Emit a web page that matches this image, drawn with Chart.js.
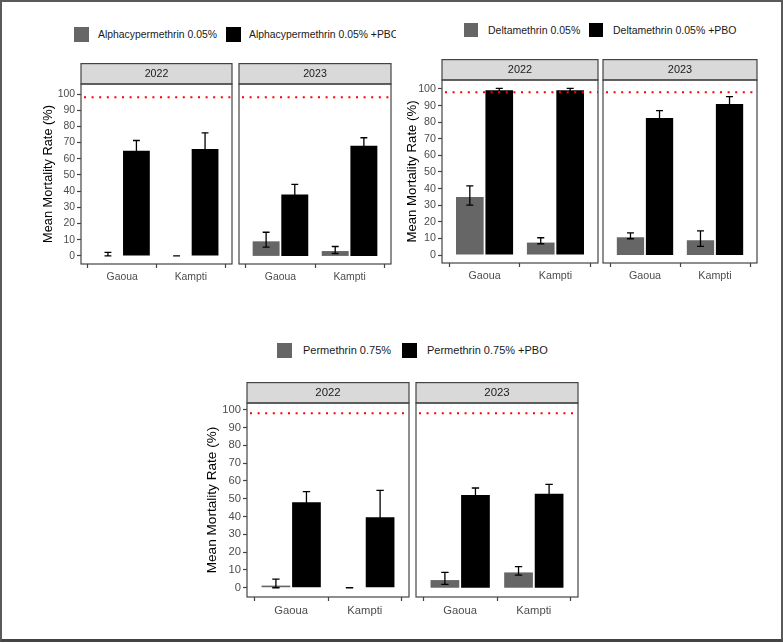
<!DOCTYPE html>
<html>
<head>
<meta charset="utf-8">
<script src="https://cdn.jsdelivr.net/npm/chart.js@4.4.1/dist/chart.umd.min.js"></script>
<style>
  html, body { margin: 0; padding: 0; background: #ffffff; }
  #frame { position: absolute; left: 0; top: 0; width: 783px; height: 642px; box-sizing: border-box;
           border: 2px solid #5a5a5a; border-bottom: 3px solid #444; }
  canvas.facet { position: absolute; }
  .legend { position: absolute; overflow: hidden; font-family: 'Liberation Sans', Arial, sans-serif; color: #1a1a1a; white-space: nowrap; }
  .legend .sw { position: absolute; }
  .legend .lt { position: absolute; }
</style>
</head>
<body>
<div id="frame"></div>
<div id="root"></div>
<script>
// ---------------- data ----------------
const sites = ['Gaoua', 'Kampti'];
const years = ['2022', '2023'];
const yTickValues = [0, 10, 20, 30, 40, 50, 60, 70, 80, 90, 100];
const threshold = 98;
const yAxisTitle = 'Mean Mortality Rate (%)';

// Alphacypermethrin
const alphaLegend = ['Alphacypermethrin 0.05%', 'Alphacypermethrin 0.05% +PBO'];
const alphaBase2022 = [0.3, 0];
const alphaBaseErr2022 = [[0, 2.2], [0, 0]];
const alphaPbo2022 = [65, 66];
const alphaPboErr2022 = [[59, 71.3], [56.5, 76]];
const alphaBase2023 = [9, 3];
const alphaBaseErr2023 = [[5.4, 14.6], [1.5, 5.8]];
const alphaPbo2023 = [38, 68];
const alphaPboErr2023 = [[32, 44.2], [63.5, 73]];

// Deltamethrin
const deltaLegend = ['Deltamethrin 0.05%', 'Deltamethrin 0.05% +PBO'];
const deltaBase2022 = [35, 7.5];
const deltaBaseErr2022 = [[30, 41.7], [6.8, 10.4]];
const deltaPbo2022 = [99.3, 99.3];
const deltaPboErr2022 = [[98.3, 100.4], [98.3, 100.4]];
const deltaBase2023 = [10.7, 8.9];
const deltaBaseErr2023 = [[9.8, 13.4], [5.2, 14.5]];
const deltaPbo2023 = [82.5, 91];
const deltaPboErr2023 = [[78, 86.9], [86.5, 95.4]];

// Permethrin
const permLegend = ['Permethrin 0.75%', 'Permethrin 0.75% +PBO'];
const permBase2022 = [1.2, 0];
const permBaseErr2022 = [[0, 4.8], [0, 0]];
const permPbo2022 = [48, 39.6];
const permPboErr2022 = [[42, 54], [24.6, 54.6]];
const permBase2023 = [4.3, 8.6];
const permBaseErr2023 = [[1.9, 8.6], [7.1, 11.8]];
const permPbo2023 = [52, 52.7];
const permPboErr2023 = [[48, 56], [47.4, 58]];

// ---------------- layout & style ----------------
const FONT = "'Liberation Sans', Arial, sans-serif";
const BASE_COLOR = '#666666';
const PBO_COLOR = '#000000';

const groups = [
  {
    legend: alphaLegend,
    facets: [
      [alphaBase2022, alphaBaseErr2022, alphaPbo2022, alphaPboErr2022],
      [alphaBase2023, alphaBaseErr2023, alphaPbo2023, alphaPboErr2023]
    ],
    panels: [{ x: 81, y: 84, w: 151, h: 180 }, { x: 239, y: 84, w: 152, h: 180 }],
    strip: 21, yMin: -5, yMax: 106.2, titleX: 49,
    fs: 1.0, titleSize: 12.8,
    legendBox: { left: 0, top: 20, width: 396, height: 30 },
    legendItems: [{ sx: 74, tx: 98 }, { sx: 226, tx: 249 }], legendSw: 15, legendY: 7, legendFont: 10.4
  },
  {
    legend: deltaLegend,
    facets: [
      [deltaBase2022, deltaBaseErr2022, deltaPbo2022, deltaPboErr2022],
      [deltaBase2023, deltaBaseErr2023, deltaPbo2023, deltaPboErr2023]
    ],
    panels: [{ x: 442, y: 80, w: 156, h: 183 }, { x: 603, y: 80, w: 154, h: 183 }],
    strip: 21, yMin: -4.8, yMax: 105.4, titleX: 412,
    fs: 1.03, titleSize: 13.2,
    legendBox: { left: 400, top: 16, width: 370, height: 30 },
    legendItems: [{ sx: 464, tx: 488 }, { sx: 589, tx: 613 }], legendSw: 14, legendY: 7, legendFont: 10.5
  },
  {
    legend: permLegend,
    facets: [
      [permBase2022, permBaseErr2022, permPbo2022, permPboErr2022],
      [permBase2023, permBaseErr2023, permPbo2023, permPboErr2023]
    ],
    panels: [{ x: 247, y: 403, w: 162, h: 194 }, { x: 416, y: 403, w: 162, h: 194 }],
    strip: 21, yMin: -5.2, yMax: 103.7, titleX: 212,
    fs: 1.08, titleSize: 13.6,
    legendBox: { left: 200, top: 336, width: 400, height: 30 },
    legendItems: [{ sx: 277, tx: 303 }, { sx: 402, tx: 427 }], legendSw: 15, legendY: 7, legendFont: 11
  }
];

const root = document.getElementById('root');

// HTML legends
groups.forEach(g => {
  const box = document.createElement('div');
  box.className = 'legend';
  Object.assign(box.style, {
    left: g.legendBox.left + 'px', top: g.legendBox.top + 'px',
    width: g.legendBox.width + 'px', height: g.legendBox.height + 'px',
    fontSize: g.legendFont + 'px'
  });
  g.legendItems.forEach((it, k) => {
    const sw = document.createElement('div');
    sw.className = 'sw';
    Object.assign(sw.style, {
      left: (it.sx - g.legendBox.left) + 'px', top: g.legendY + 'px',
      width: g.legendSw + 'px', height: g.legendSw + 'px',
      background: k === 0 ? BASE_COLOR : PBO_COLOR
    });
    const tx = document.createElement('div');
    tx.className = 'lt';
    tx.textContent = g.legend[k];
    Object.assign(tx.style, {
      left: (it.tx - g.legendBox.left) + 'px', top: g.legendY + 'px',
      lineHeight: g.legendSw + 'px'
    });
    box.appendChild(sw);
    box.appendChild(tx);
  });
  root.appendChild(box);
});

// facet decoration plugin: strip, error bars, threshold line, panel border
const facetDecor = {
  id: 'facetDecor',
  beforeDraw(chart) {
    const { ctx, chartArea: a } = chart;
    const tb = chart.titleBlock;
    ctx.save();
    ctx.fillStyle = '#D9D9D9';
    ctx.fillRect(a.left, tb.top, a.right - a.left, a.top - tb.top);
    ctx.strokeStyle = '#444';
    ctx.lineWidth = 1.2;
    ctx.strokeRect(a.left, tb.top + 0.6, a.right - a.left, a.top - tb.top - 0.6);
    ctx.restore();
  },
  afterDatasetsDraw(chart) {
    const { ctx, chartArea: a, scales } = chart;
    const x = scales.x, y = scales.y;
    const unit = x.getPixelForValue(2) - x.getPixelForValue(1);
    const hw = unit * 0.1 / 2;
    ctx.save();
    ctx.strokeStyle = '#000';
    ctx.lineWidth = 1.3;
    chart.data.datasets.forEach((ds, di) => {
      const meta = chart.getDatasetMeta(di);
      ds.errors.forEach((e, i) => {
        const bar = meta.data[i];
        const cx = bar.x;
        const y1 = y.getPixelForValue(e[0]);
        const y2 = y.getPixelForValue(e[1]);
        ctx.beginPath();
        ctx.moveTo(cx, y1); ctx.lineTo(cx, y2);
        ctx.moveTo(cx - hw, y1); ctx.lineTo(cx + hw, y1);
        ctx.moveTo(cx - hw, y2); ctx.lineTo(cx + hw, y2);
        ctx.stroke();
      });
    });
    const ty = y.getPixelForValue(threshold);
    ctx.strokeStyle = '#FF0000';
    ctx.lineWidth = 2;
    ctx.setLineDash([2, 5.6]);
    ctx.beginPath();
    ctx.moveTo(a.left + 3, ty); ctx.lineTo(a.right, ty);
    ctx.stroke();
    ctx.setLineDash([]);
    ctx.strokeStyle = '#444';
    ctx.lineWidth = 1.2;
    ctx.strokeRect(a.left, a.top, a.right - a.left, a.bottom - a.top);
    ctx.restore();
  }
};

function makeFacet(g, fi) {
  const p = g.panels[fi];
  const [baseVals, baseErr, pboVals, pboErr] = g.facets[fi];
  const isLeft = fi === 0;
  const padT = 1, padSide = 2, xAxisH = 28;
  const titleLH = g.titleSize * 1.2;
  const left = isLeft ? Math.round(g.titleX - titleLH / 2 - 2) : p.x - padSide;
  const yAxisW = isLeft ? p.x - left : 0;
  const top = p.y - g.strip - padT;
  const width = p.x + p.w + padSide - left;
  const height = p.y + p.h + xAxisH - top;

  const cv = document.createElement('canvas');
  cv.className = 'facet';
  cv.width = width; cv.height = height;
  Object.assign(cv.style, { left: left + 'px', top: top + 'px', width: width + 'px', height: height + 'px' });
  root.appendChild(cv);

  const tickFont = { family: FONT, size: 10.4 * g.fs };
  const stripFont = { family: FONT, size: 10.6 * g.fs, weight: 'normal' };
  const stripLH = stripFont.size * 1.2;
  const stripPadTop = (g.strip - stripLH) / 2 + 0.6;
  const stripPadBot = g.strip - stripLH - stripPadTop;

  new Chart(cv, {
    type: 'bar',
    data: {
      datasets: [
        { label: g.legend[0], data: baseVals.map((v, i) => ({ x: i + 1, y: v })), errors: baseErr,
          backgroundColor: BASE_COLOR, borderWidth: 0, categoryPercentage: 0.83, barPercentage: 0.94 },
        { label: g.legend[1], data: pboVals.map((v, i) => ({ x: i + 1, y: v })), errors: pboErr,
          backgroundColor: PBO_COLOR, borderWidth: 0, categoryPercentage: 0.83, barPercentage: 0.94 }
      ]
    },
    options: {
      responsive: false,
      animation: false,
      devicePixelRatio: 1,
      layout: { padding: { top: padT, left: isLeft ? 0 : padSide, right: padSide, bottom: 0 } },
      plugins: {
        legend: { display: false },
        tooltip: { enabled: false },
        title: {
          display: true, text: years[fi], fullSize: false, color: '#1a1a1a',
          font: stripFont, padding: { top: stripPadTop, bottom: stripPadBot }
        }
      },
      scales: {
        x: {
          type: 'linear', min: 0.4, max: 2.6, offset: false,
          afterBuildTicks: s => { s.ticks = sites.map((_, i) => ({ value: i + 1 })); },
          afterFit: s => { s.height = xAxisH; },
          ticks: {
            callback: v => sites[Math.round(v) - 1] || '',
            font: tickFont, color: '#4D4D4D', padding: 3, autoSkip: false, maxRotation: 0, minRotation: 0
          },
          grid: { drawOnChartArea: false, drawTicks: true, tickLength: 4, color: '#444', tickColor: '#444', tickWidth: 1.2 },
          border: { display: false }
        },
        y: {
          display: isLeft, min: g.yMin, max: g.yMax,
          afterBuildTicks: s => { s.ticks = yTickValues.map(v => ({ value: v })); },
          afterFit: s => { s.width = yAxisW; },
          ticks: { font: tickFont, color: '#4D4D4D', padding: 2, autoSkip: false },
          grid: { drawOnChartArea: false, drawTicks: true, tickLength: 4, color: '#444', tickColor: '#444', tickWidth: 1.2 },
          border: { display: false },
          title: {
            display: true, text: yAxisTitle, color: '#000',
            font: { family: FONT, size: g.titleSize }, padding: { top: 2, bottom: 0 }
          }
        }
      }
    },
    plugins: [facetDecor]
  });
}

groups.forEach(g => { makeFacet(g, 0); makeFacet(g, 1); });
</script>
</body>
</html>
